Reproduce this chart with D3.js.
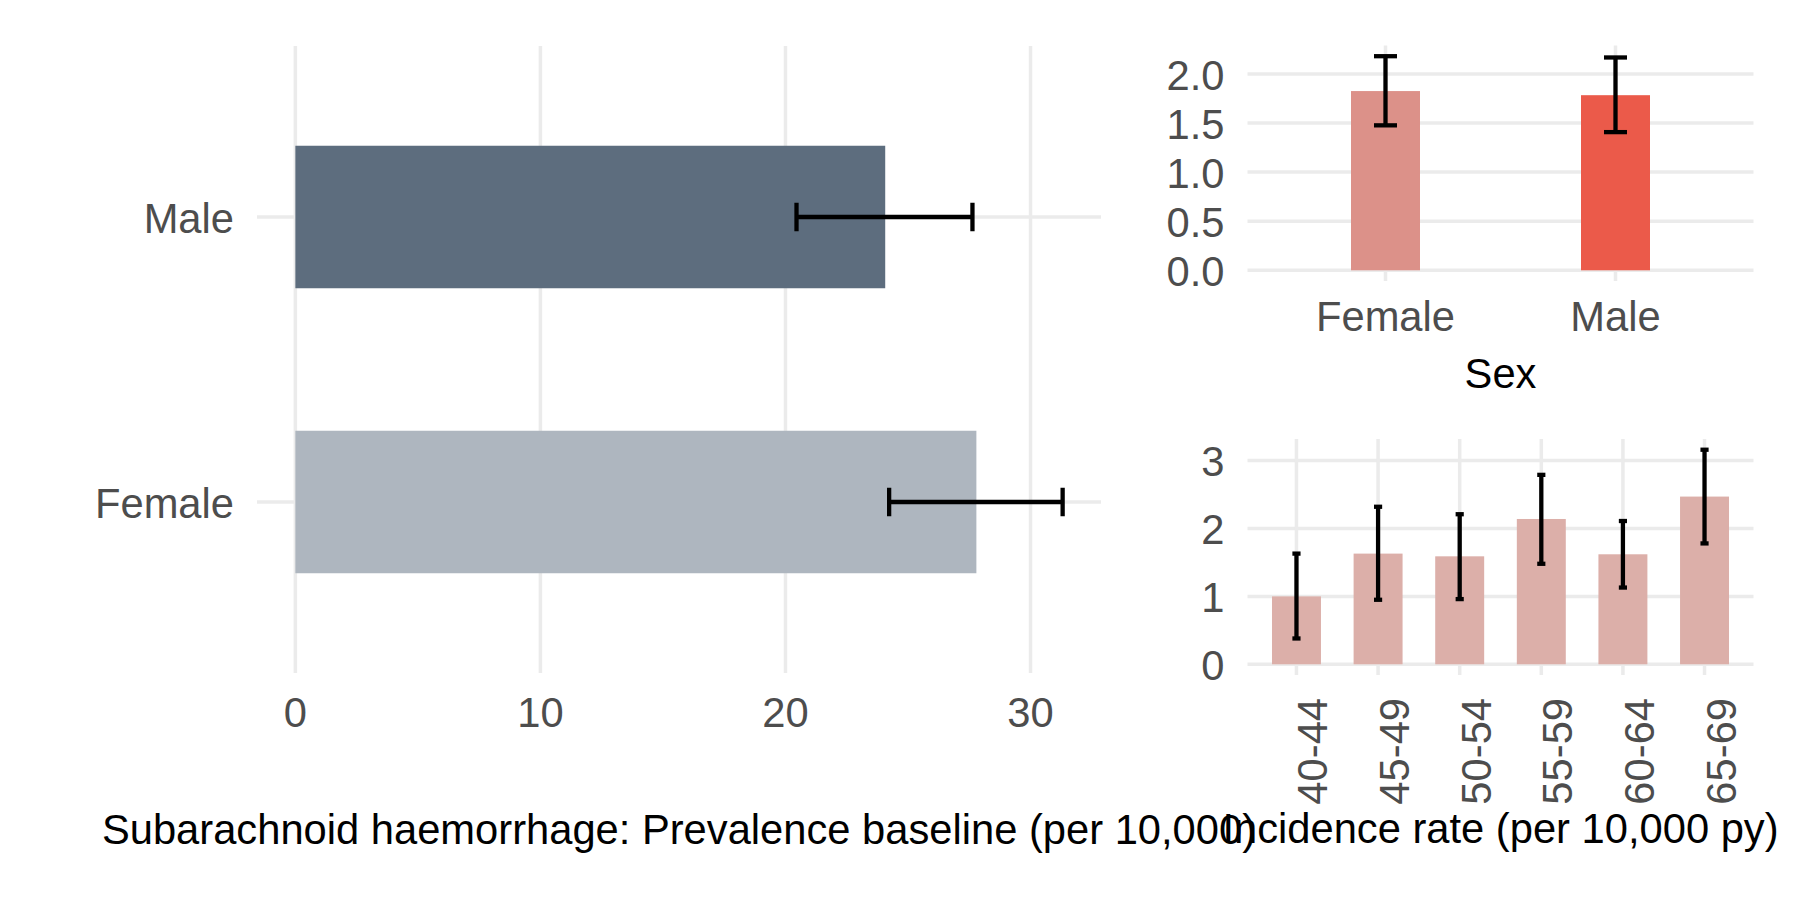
<!DOCTYPE html>
<html>
<head>
<meta charset="utf-8">
<script src="https://cdn.jsdelivr.net/npm/d3@7"></script>
<style>
  html, body { margin: 0; padding: 0; background: #ffffff; }
  svg { display: block; }
  text { font-family: "Liberation Sans", Arial, Helvetica, sans-serif; }
</style>
</head>
<body>
<div id="chart"></div>
<script>
// Prevalence baseline by sex (per 10,000)
const prevSex = ["Male", "Female"];
const prevValue = [24.07, 27.79];
const prevLower = [20.45, 24.23];
const prevUpper = [27.63, 31.31];
const prevColors = ["#5D6D7E", "#AEB6BF"];
const prevTicks = [0, 10, 20, 30];

// Incidence rate by sex (per 10,000 py)
const incSex = ["Female", "Male"];
const incSexValue = [1.825, 1.783];
const incSexLower = [1.476, 1.407];
const incSexUpper = [2.18, 2.167];
const incSexColors = ["#DC9189", "#EB5A4A"];
const incSexTicks = [0, 0.5, 1, 1.5, 2];

// Incidence rate by age group (per 10,000 py)
const ageGroups = ["40-44", "45-49", "50-54", "55-59", "60-64", "65-69"];
const incAgeValue = [1.0, 1.63, 1.59, 2.14, 1.62, 2.47];
const incAgeLower = [0.38, 0.95, 0.96, 1.48, 1.13, 1.78];
const incAgeUpper = [1.63, 2.32, 2.21, 2.79, 2.11, 3.16];
const incAgeColor = "#DCAFA9";
const incAgeTicks = [0, 1, 2, 3];

const prevTitle = "Subarachnoid haemorrhage: Prevalence baseline (per 10,000)";
const incTitle = "Incidence rate (per 10,000 py)";

// Drawing settings
const WIDTH = 1800;
const HEIGHT = 900;
const FONT = 41.7;
const GRID = "#EBEBEB";
const GRID_W = 3.5;
const TICK_COL = "#4D4D4D";
const ERR_W = 4.3;

/**
* ggplot like continuous expansion (5% each side), zero included
*/
const expand = function(values){
    const lo = Math.min(0, d3.min(values));
    const hi = d3.max(values);
    const pad = (hi - lo) * 0.05;
    return [lo - pad, hi + pad];
}

const svg = d3.select("#chart")
    .append("svg")
        .attr("width", WIDTH)
        .attr("height", HEIGHT);

/**
* Left panel: horizontal bars with horizontal error bars
*/
function drawPrevalence(){
    const box = {left: 257, right: 1101, top: 46, bottom: 673};
    const g = svg.append("g");

    const x = d3.scaleLinear()
        .domain(expand(prevUpper))
        .range([box.left, box.right]);
    const y = d3.scalePoint()
        .domain(prevSex)
        .range([box.top, box.bottom])
        .padding(0.6);
    const step = y.step();

    // grid
    g.selectAll(".vgrid").data(prevTicks).enter()
        .append("line")
        .attr("x1", d => x(d)).attr("x2", d => x(d))
        .attr("y1", box.top).attr("y2", box.bottom)
        .attr("stroke", GRID).attr("stroke-width", GRID_W);
    g.selectAll(".hgrid").data(prevSex).enter()
        .append("line")
        .attr("x1", box.left).attr("x2", box.right)
        .attr("y1", d => y(d)).attr("y2", d => y(d))
        .attr("stroke", GRID).attr("stroke-width", GRID_W);

    // bars
    g.selectAll(".bar").data(prevSex).enter()
        .append("rect")
        .attr("x", x(0))
        .attr("y", d => y(d) - step * 0.25)
        .attr("width", (d, i) => x(prevValue[i]) - x(0))
        .attr("height", step * 0.5)
        .attr("fill", (d, i) => prevColors[i]);

    // error bars
    const cap = step * 0.05;
    prevSex.forEach(function(d, i){
        const cy = y(d);
        g.append("line")
            .attr("x1", x(prevLower[i])).attr("x2", x(prevUpper[i]))
            .attr("y1", cy).attr("y2", cy)
            .attr("stroke", "#000").attr("stroke-width", ERR_W);
        [prevLower[i], prevUpper[i]].forEach(function(v){
            g.append("line")
                .attr("x1", x(v)).attr("x2", x(v))
                .attr("y1", cy - cap).attr("y2", cy + cap)
                .attr("stroke", "#000").attr("stroke-width", ERR_W);
        });
    });

    // tick labels
    g.selectAll(".ylab").data(prevSex).enter()
        .append("text")
        .attr("x", box.left - 23)
        .attr("y", d => y(d))
        .attr("dy", "0.38em")
        .attr("text-anchor", "end")
        .attr("font-size", FONT)
        .attr("fill", TICK_COL)
        .text(d => d);
    g.selectAll(".xlab").data(prevTicks).enter()
        .append("text")
        .attr("x", d => x(d))
        .attr("y", 727)
        .attr("text-anchor", "middle")
        .attr("font-size", FONT)
        .attr("fill", TICK_COL)
        .text(d => d);

    g.append("text")
        .attr("x", (box.left + box.right) / 2)
        .attr("y", 844)
        .attr("text-anchor", "middle")
        .attr("font-size", FONT)
        .attr("fill", "#000")
        .text(prevTitle);
}

/**
* Vertical bar panel with error bars, used for both right panels
*/
function drawColumns(opt){
    const box = opt.box;
    const g = svg.append("g");

    const x = d3.scalePoint()
        .domain(opt.cats)
        .range([box.left, box.right])
        .padding(0.6);
    const step = x.step();
    const y = d3.scaleLinear()
        .domain(expand(opt.upper))
        .range([box.bottom, box.top]);

    // grid
    g.selectAll(".hgrid").data(opt.ticks).enter()
        .append("line")
        .attr("x1", box.left).attr("x2", box.right)
        .attr("y1", d => y(d)).attr("y2", d => y(d))
        .attr("stroke", GRID).attr("stroke-width", GRID_W);
    g.selectAll(".vgrid").data(opt.cats).enter()
        .append("line")
        .attr("x1", d => x(d)).attr("x2", d => x(d))
        .attr("y1", box.top).attr("y2", box.bottom)
        .attr("stroke", GRID).attr("stroke-width", GRID_W);

    // bars
    const bw = step * opt.barWidth;
    g.selectAll(".bar").data(opt.cats).enter()
        .append("rect")
        .attr("x", d => x(d) - bw / 2)
        .attr("y", (d, i) => y(opt.values[i]))
        .attr("width", bw)
        .attr("height", (d, i) => y(0) - y(opt.values[i]))
        .attr("fill", (d, i) => opt.colors[i]);

    // error bars
    const cap = step * opt.capWidth / 2;
    opt.cats.forEach(function(d, i){
        const cx = x(d);
        g.append("line")
            .attr("x1", cx).attr("x2", cx)
            .attr("y1", y(opt.lower[i])).attr("y2", y(opt.upper[i]))
            .attr("stroke", "#000").attr("stroke-width", ERR_W);
        [opt.lower[i], opt.upper[i]].forEach(function(v){
            g.append("line")
                .attr("x1", cx - cap).attr("x2", cx + cap)
                .attr("y1", y(v)).attr("y2", y(v))
                .attr("stroke", "#000").attr("stroke-width", ERR_W);
        });
    });

    // y tick labels
    g.selectAll(".ylab").data(opt.ticks).enter()
        .append("text")
        .attr("x", box.left - 23)
        .attr("y", d => y(d))
        .attr("dy", "0.38em")
        .attr("text-anchor", "end")
        .attr("font-size", FONT)
        .attr("fill", TICK_COL)
        .text(d => opt.fmt(d));

    // x tick labels
    if (opt.rotate) {
        g.selectAll(".xlab").data(opt.cats).enter()
            .append("text")
            .attr("transform", d => "translate(" + (x(d) + 31) + "," + (box.bottom + 23) + ") rotate(-90)")
            .attr("text-anchor", "end")
            .attr("font-size", FONT)
            .attr("fill", TICK_COL)
            .text(d => d);
    } else {
        g.selectAll(".xlab").data(opt.cats).enter()
            .append("text")
            .attr("x", d => x(d))
            .attr("y", box.bottom + 50)
            .attr("text-anchor", "middle")
            .attr("font-size", FONT)
            .attr("fill", TICK_COL)
            .text(d => d);
    }

    g.append("text")
        .attr("x", (box.left + box.right) / 2)
        .attr("y", opt.titleY)
        .attr("text-anchor", "middle")
        .attr("font-size", FONT)
        .attr("fill", "#000")
        .text(opt.title);
}

drawPrevalence();

drawColumns({
    box: {left: 1247.5, right: 1753.5, top: 45.5, bottom: 281},
    cats: incSex, values: incSexValue, lower: incSexLower, upper: incSexUpper,
    colors: incSexColors, ticks: incSexTicks, fmt: d3.format(".1f"),
    barWidth: 0.3, capWidth: 0.1, rotate: false,
    title: "Sex", titleY: 388
});

drawColumns({
    box: {left: 1247.5, right: 1753.5, top: 439, bottom: 675},
    cats: ageGroups, values: incAgeValue, lower: incAgeLower, upper: incAgeUpper,
    colors: ageGroups.map(() => incAgeColor), ticks: incAgeTicks, fmt: d3.format("d"),
    barWidth: 0.6, capWidth: 0.1, rotate: true,
    title: incTitle, titleY: 843
});
</script>
</body>
</html>
